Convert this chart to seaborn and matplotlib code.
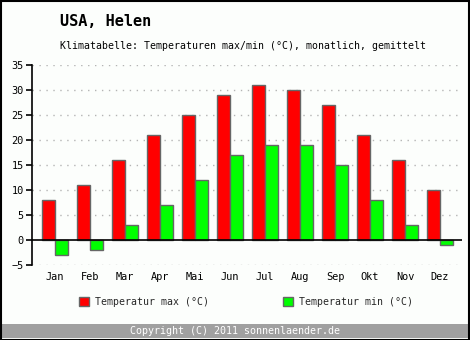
import matplotlib
matplotlib.use("Agg")
import matplotlib.pyplot as plt
from matplotlib.patches import Rectangle
import pandas as pd
import seaborn as sns

months = ["Jan", "Feb", "Mar", "Apr", "Mai", "Jun", "Jul", "Aug", "Sep", "Okt", "Nov", "Dez"]
temp_max = [8, 11, 16, 21, 25, 29, 31, 30, 27, 21, 16, 10]
temp_min = [-3, -2, 3, 7, 12, 17, 19, 19, 15, 8, 3, -1]
series_labels = ["Temperatur max (°C)", "Temperatur min (°C)"]
series_colors = ["#ff0000", "#00ff00"]
y_ticks = [-5, 0, 5, 10, 15, 20, 25, 30, 35]

df = pd.DataFrame({
    "Monat": months * 2,
    "Wert": temp_max + temp_min,
    "Reihe": [series_labels[0]] * 12 + [series_labels[1]] * 12,
})

sns.set_theme(style="white")
plt.rcParams["font.family"] = ["DejaVu Sans Mono", "DejaVu Sans"]

W, H = 470, 340
bg = "#fcfefc"
fs = 7.1
fig = plt.figure(figsize=(W / 100, H / 100), dpi=100, facecolor=bg)
ax = fig.add_axes([32 / W, 75 / H, 430 / W, 200 / H], facecolor=bg)

sns.barplot(data=df, x="Monat", y="Wert", hue="Reihe", order=months,
            hue_order=series_labels, palette=series_colors, width=0.72,
            edgecolor="#666666", linewidth=1.0, saturation=1, ax=ax, zorder=3)

ax.set_xlim(-0.657, 11.63)
ax.set_ylim(-5, 35)
ax.set_yticks(y_ticks)
ax.set_xlabel("")
ax.set_ylabel("")
for s in ["top", "right", "bottom"]:
    ax.spines[s].set_visible(False)
ax.spines["left"].set_color("black")
ax.spines["left"].set_linewidth(1.2)
ax.tick_params(axis="y", direction="out", length=4, width=1.2, color="black",
               labelsize=fs + 0.3, pad=2, left=True)
ax.tick_params(axis="x", length=0, labelsize=fs + 0.3, pad=5)
for t in ax.get_xticklabels() + ax.get_yticklabels():
    t.set_color("black")

for yv in y_ticks:
    if yv != 0:
        ax.axhline(yv, color="#b4b4b4", linestyle=(0, (1, 4)), linewidth=1.0, zorder=1)
ax.axhline(0, color="black", linewidth=1.2, zorder=4)

handles, labels = ax.get_legend_handles_labels()
ax.get_legend().remove()
fig.legend(handles, labels, ncol=2, loc="center",
           bbox_to_anchor=(246 / W, 38 / H), frameon=False, fontsize=fs,
           handlelength=0.95, handleheight=0.95, handletextpad=0.6,
           columnspacing=7.6)

fig.text(60 / W, (H - 22) / H, "USA, Helen", fontsize=11, fontweight="bold",
         va="center", ha="left", color="black")
fig.text(60 / W, (H - 46) / H,
         "Klimatabelle: Temperaturen max/min (°C), monatlich, gemittelt",
         fontsize=fs, va="center", ha="left", color="black")

# footer band
fig.patches.append(Rectangle((0, 2 / H), 1, 14 / H, transform=fig.transFigure,
                             facecolor="#a0a0a0", edgecolor="none", zorder=0))
fig.text(235 / W, 9 / H, "Copyright (C) 2011 sonnenlaender.de", fontsize=fs + 0.1,
         color="white", ha="center", va="center")

# outer frame
fig.patches.append(Rectangle((0.5 / W, 0.5 / H), 1 - 1.5 / W, 1 - 1.5 / H,
                             transform=fig.transFigure, facecolor="none",
                             edgecolor="black", linewidth=1.5, zorder=10))

fig.savefig("out.png", dpi=100, facecolor=bg)
